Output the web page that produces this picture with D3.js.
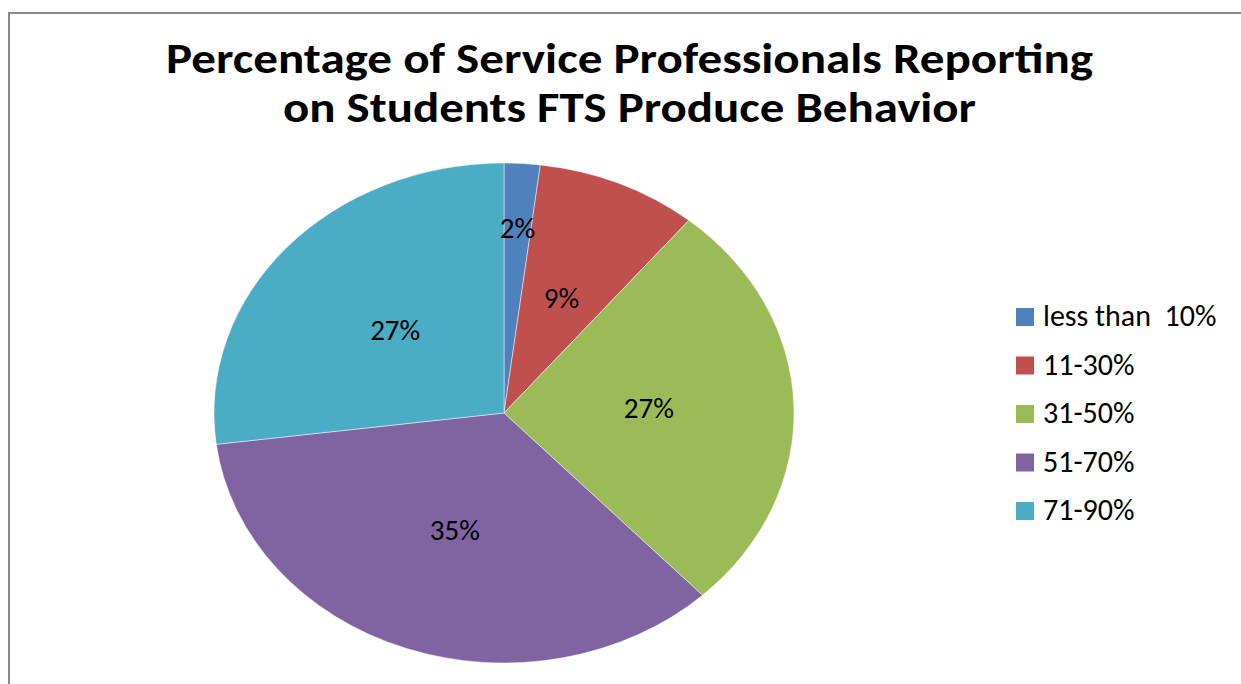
<!DOCTYPE html>
<html><head><meta charset="utf-8">
<script src="https://cdn.jsdelivr.net/npm/d3@7"></script>
<style>body{margin:0;background:#fff}svg{display:block}</style>
</head><body>
<svg id="chart" width="1241" height="684"></svg>
<script>
const categories = ["less than  10%", "11-30%", "31-50%", "51-70%", "71-90%"];
const values = [2, 9, 27, 35, 27];
const colors = ["#4F81BD", "#C0504D", "#9BBB59", "#8064A2", "#4BACC6"];
const titleLines = ["Percentage of Service Professionals Reporting", "on Students FTS Produce Behavior"];

const svg = d3.select("#chart");
const W = 1241, H = 684;
svg.append("rect").attr("width", W).attr("height", H).attr("fill", "#fff");
// chart frame (extends past right/bottom edges)
svg.append("path").attr("d", `M9,${H+5}V13H${W+5}`).attr("fill", "none").attr("stroke", "#8a8a8a").attr("stroke-width", 2);

const font = "Carlito, Calibri, 'Open Sans', 'Liberation Sans', sans-serif";
const titleX = 629.5, titleY = [73, 122], titleW = [927, 693];
titleLines.forEach((t, i) => {
  svg.append("text").attr("x", titleX).attr("y", titleY[i]).attr("text-anchor", "middle")
    .attr("font-family", font).attr("font-weight", "bold").attr("font-size", 43)
    .attr("textLength", titleW[i]).attr("lengthAdjust", "spacingAndGlyphs")
    .attr("fill", "#000").text(t);
});

const cx = 504, cy = 413, rx = 290, ry = 250;
const data = categories.map((c, i) => ({cat: c, v: values[i], color: colors[i]}));
const pie = d3.pie().value(d => d.v).sort(null);
const arcs = pie(data);
const arc = d3.arc().innerRadius(0).outerRadius(ry);
const g = svg.append("g").attr("transform", `translate(${cx},${cy}) scale(${rx / ry},1)`);
g.selectAll("path").data(arcs).join("path")
  .attr("d", arc).attr("fill", d => d.data.color)
  .attr("stroke", "#fff").attr("stroke-width", 0.8).attr("stroke-opacity", 0.6)
  .attr("vector-effect", "non-scaling-stroke");

const total = d3.sum(values);
const labelFs = 29;
arcs.forEach(a => {
  const mid = (a.startAngle + a.endAngle) / 2;
  const frac = (a.data.v / total) < 0.05 ? 0.74 : 0.5;
  const x = cx + Math.sin(mid) * rx * frac;
  const y = cy - Math.cos(mid) * ry * frac;
  svg.append("text").attr("x", x).attr("y", y + labelFs * 0.32)
    .attr("text-anchor", "middle").attr("font-family", font).attr("font-size", labelFs)
    .attr("fill", "#000").text(Math.round(a.data.v / total * 100) + "%");
});

const legX = 1016, legY0 = 317, legStep = 48.5, legFs = 30;
const leg = svg.append("g");
data.forEach((d, i) => {
  const y = legY0 + i * legStep;
  leg.append("rect").attr("x", legX).attr("y", y - 9).attr("width", 18).attr("height", 18).attr("fill", d.color);
  leg.append("text").attr("x", legX + 27).attr("y", y + 9)
    .attr("font-family", font).attr("font-size", legFs).attr("fill", "#000")
    .style("white-space", "pre").text(d.cat);
});
</script>
</body></html>
